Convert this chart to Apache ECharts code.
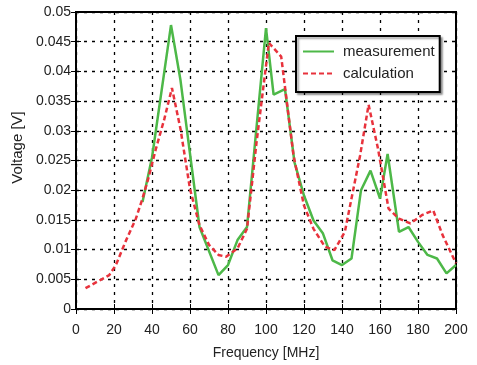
<!DOCTYPE html>
<html>
<head>
<meta charset="utf-8">
<script src="https://cdn.jsdelivr.net/npm/echarts@6/dist/echarts.min.js"></script>
<style>html,body{margin:0;padding:0;background:#fff}#c{width:477px;height:365px}</style>
</head>
<body>
<div id="c"></div>
<script>
var measFreq = [35, 40, 50, 55, 65, 75, 80, 85, 90, 100, 104, 110, 115, 120, 125, 130, 135, 140, 145, 150, 155, 160, 164, 170, 175, 180, 185, 190, 195, 200];
var measVolt = [0.018, 0.0255, 0.0478, 0.0385, 0.0138, 0.0057, 0.0074, 0.0116, 0.0138, 0.0473, 0.0361, 0.037, 0.0247, 0.0191, 0.0149, 0.0127, 0.0082, 0.0074, 0.0085, 0.020, 0.0233, 0.0186, 0.0261, 0.013, 0.0138, 0.0113, 0.0091, 0.0085, 0.006, 0.0074];
var calcFreq = [5, 17.5, 21, 26, 31.5, 35, 38, 42, 46.5, 50.5, 55, 60, 65, 70, 75, 79, 85, 90, 95, 101.5, 108, 114.5, 120, 125, 131, 136, 141.5, 149.5, 154, 159, 164.5, 170, 176, 182, 188, 193, 200];
var calcVolt = [0.0035, 0.0057, 0.0074, 0.0113, 0.0152, 0.0186, 0.0219, 0.0269, 0.032, 0.0372, 0.0303, 0.0202, 0.0141, 0.0108, 0.0091, 0.0088, 0.0102, 0.0135, 0.028, 0.0448, 0.0425, 0.0258, 0.0174, 0.0135, 0.0105, 0.0099, 0.013, 0.0258, 0.0344, 0.0269, 0.0169, 0.0152, 0.0144, 0.0158, 0.0166, 0.0124, 0.0077];
var seriesNames = ['measurement', 'calculation'];
var xLabel = 'Frequency [MHz]';
var yLabel = 'Voltage [V]';

function pairs(xs, ys) { return xs.map(function (x, i) { return [x, ys[i]]; }); }

var font = 'Liberation Sans, Arial, sans-serif';
var gridLine = { show: true, lineStyle: { color: '#000', type: [3, 5], width: 1.3 } };
var chart = echarts.init(document.getElementById('c'), null, { renderer: 'canvas' });
chart.setOption({
  animation: false,
  backgroundColor: '#fff',
  grid: { left: 76, right: 21, top: 12, bottom: 54, show: true, borderColor: '#000', borderWidth: 2, backgroundColor: '#fff' },
  legend: {
    left: 296, top: 36, orient: 'vertical',
    itemWidth: 31, itemHeight: 14, itemGap: 7,
    padding: [8, 5, 11, 6],
    backgroundColor: '#fff', borderColor: '#000', borderWidth: 2,
    shadowColor: 'rgba(0,0,0,0.35)', shadowBlur: 2, shadowOffsetX: 2, shadowOffsetY: 2,
    itemStyle: { opacity: 0 },
    textStyle: { fontFamily: font, fontSize: 15, color: '#222', padding: [0, 0, 0, 4] },
    data: seriesNames
  },
  xAxis: [{
    type: 'value', min: 0, max: 200, interval: 20,
    name: xLabel, nameLocation: 'middle', nameGap: 37,
    nameTextStyle: { fontFamily: font, fontSize: 14, color: '#222' },
    axisLine: { show: false },
    axisTick: { show: true, inside: true, length: 5, lineStyle: { color: '#000', width: 1 } },
    axisLabel: { fontFamily: font, fontSize: 14, color: '#222', margin: 14 },
    splitLine: gridLine
  }, {
    type: 'value', min: 0, max: 200, interval: 20, position: 'top',
    axisLine: { show: false },
    axisTick: { show: true, inside: true, length: 5, lineStyle: { color: '#000', width: 1 } },
    axisLabel: { show: false }, splitLine: { show: false }
  }],
  yAxis: [{
    type: 'value', min: 0, max: 0.05, interval: 0.005,
    name: yLabel, nameLocation: 'middle', nameGap: 50,
    nameTextStyle: { fontFamily: font, fontSize: 15, color: '#222', padding: [0, 0, 0, 26] },
    axisLine: { show: false },
    axisTick: { show: true, inside: true, length: 5, lineStyle: { color: '#000', width: 1 } },
    axisLabel: { fontFamily: font, fontSize: 14, color: '#222', margin: 5 },
    splitLine: gridLine
  }, {
    type: 'value', min: 0, max: 0.05, interval: 0.005, position: 'right',
    axisLine: { show: false },
    axisTick: { show: true, inside: true, length: 5, lineStyle: { color: '#000', width: 1 } },
    axisLabel: { show: false }, splitLine: { show: false }
  }],
  series: [{
    name: seriesNames[0], type: 'line', xAxisIndex: 0, yAxisIndex: 0,
    data: pairs(measFreq, measVolt), symbol: 'none',
    lineStyle: { color: '#4db848', width: 2.5 }, itemStyle: { color: '#4db848' }, z: 3
  }, {
    name: seriesNames[1], type: 'line', xAxisIndex: 0, yAxisIndex: 0,
    data: pairs(calcFreq, calcVolt), symbol: 'none',
    lineStyle: { color: '#e8323c', width: 2.5, type: [5, 3] }, itemStyle: { color: '#e0204a' }, z: 4
  }]
});
</script>
</body>
</html>
